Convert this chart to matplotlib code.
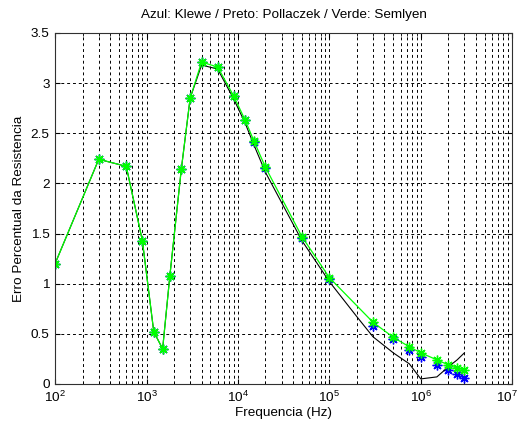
import matplotlib.pyplot as plt
import matplotlib.transforms as mtransforms

plt.rcParams['font.family'] = ['Liberation Sans', 'DejaVu Sans']
plt.rcParams['font.size'] = 9.7

# frequencies (Hz)
freq = [100, 300, 600, 900, 1200, 1500, 1800, 2400, 3000, 4000, 6000, 9000,
        12000, 15000, 20000, 50000, 1e5, 3e5, 5e5, 7.5e5, 1e6, 1.5e6, 2e6, 2.5e6, 3e6]

# Semlyen (green)
semlyen = [1.20, 2.24, 2.17, 1.43, 0.52, 0.35, 1.08, 2.14, 2.85, 3.21, 3.16, 2.87,
           2.63, 2.42, 2.16, 1.47, 1.06, 0.615, 0.465, 0.37, 0.31, 0.24, 0.19, 0.156, 0.14]

# Klewe (blue)
klewe = [1.20, 2.24, 2.17, 1.43, 0.52, 0.35, 1.08, 2.14, 2.85, 3.21, 3.16, 2.87,
         2.63, 2.41, 2.15, 1.46, 1.05, 0.58, 0.445, 0.34, 0.27, 0.19, 0.14, 0.097, 0.063]

# Pollaczek (black)
freq_p = [100, 300, 600, 900, 1200, 1500, 1800, 2400, 3000, 4000, 6000, 9000,
          12000, 15000, 20000, 50000, 1e5, 2e5, 3e5, 5e5, 7.5e5, 1e6, 1.5e6, 2e6, 2.5e6, 3e6]
pollaczek = [1.20, 2.24, 2.17, 1.43, 0.52, 0.35, 1.08, 2.14, 2.85, 3.18, 3.14, 2.84,
             2.60, 2.38, 2.11, 1.43, 1.02, 0.67, 0.47, 0.31, 0.20, 0.05, 0.07, 0.17, 0.24, 0.31]

xticks = [1e2, 1e3, 1e4, 1e5, 1e6, 1e7]
xlabels = [r'$\mathdefault{10^{2}}$', r'$\mathdefault{10^{3}}$', r'$\mathdefault{10^{4}}$',
           r'$\mathdefault{10^{5}}$', r'$\mathdefault{10^{6}}$', r'$\mathdefault{10^{7}}$']
yticks = [0, 0.5, 1, 1.5, 2, 2.5, 3, 3.5]
ylabels = ['0', '0.5', '1', '1.5', '2', '2.5', '3', '3.5']
minor = [m * 10**e for e in range(2, 7) for m in range(2, 10)]

asterisk = (8, 2, 0)   # matlab-like '*'

fig = plt.figure(figsize=(5.2, 4.28), dpi=100)
ax = fig.add_axes([0.106, 0.103, 0.879, 0.82])

ax.plot(freq, klewe, linestyle='none', marker=asterisk, color='blue',
        markersize=7, markeredgewidth=1.0)
ax.plot(freq_p, pollaczek, color='black', linewidth=0.8)
ax.plot(freq, semlyen, color='#00ff00', linewidth=0.9, marker=asterisk,
        markersize=7, markeredgewidth=1.0)

ax.set_xscale('log')
ax.set_xlim(1e2, 1e7)
ax.set_ylim(0, 3.5)
ax.set_yticks(yticks, labels=ylabels)
# last x label is drawn by hand so it can sit a little left of the edge
ax.set_xticks(xticks, labels=xlabels[:-1] + [''])
ax.set_xticks(minor, minor=True)
ax.set_xticklabels([], minor=True)

ax.grid(True, which='major', linestyle=(0, (3, 3)), color='black', linewidth=0.7)
ax.grid(True, which='minor', axis='x', linestyle=(0, (3, 3)), color='black', linewidth=0.7)
ax.tick_params(which='both', direction='in', top=True, right=True, colors='black', pad=4)
for s in ax.spines.values():
    s.set_color('#303030')

blend = mtransforms.blended_transform_factory(ax.transData, ax.transAxes)
off = mtransforms.ScaledTranslation(-0.05, -0.055, fig.dpi_scale_trans)
ax.text(xticks[-1], 0, xlabels[-1], transform=blend + off, ha='center', va='top')

ax.set_title('Azul: Klewe / Preto: Pollaczek / Verde: Semlyen', fontsize=9.7, pad=11)
ax.set_xlabel('Frequencia (Hz)', fontsize=9.7, labelpad=2)
ax.set_ylabel('Erro Percentual da Resistencia', fontsize=9.7, labelpad=4)

plt.savefig('out.png', dpi=100)
